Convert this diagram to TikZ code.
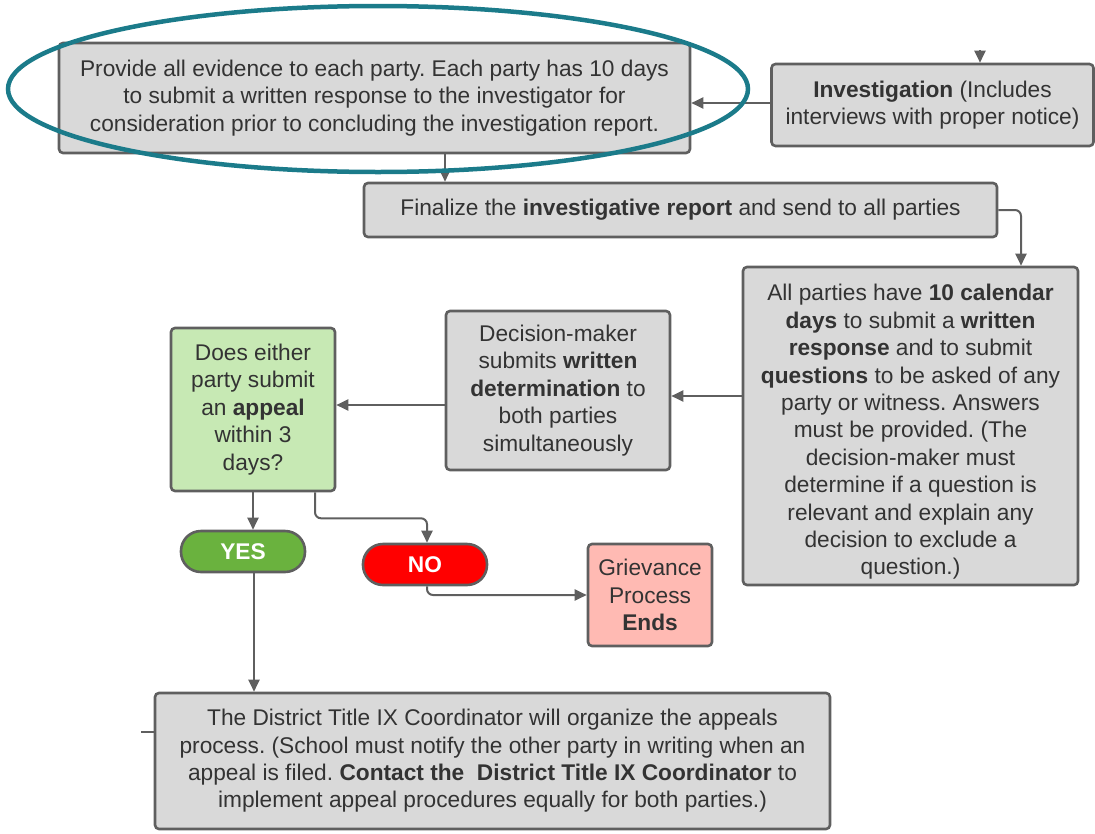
\documentclass[tikz,border=0pt]{standalone}
\usepackage{fontspec}
\setmainfont{Liberation Sans}
\usetikzlibrary{arrows.meta,calc}
\definecolor{boxfill}{HTML}{D9D9D9}
\definecolor{boxline}{HTML}{5F5F5F}
\definecolor{txt}{HTML}{333333}
\definecolor{greenbox}{HTML}{C7E9B4}
\definecolor{yesgreen}{HTML}{6AB23E}
\definecolor{nored}{HTML}{FF0000}
\definecolor{pinkbox}{HTML}{FFBAB3}
\definecolor{tealring}{HTML}{1B7B8A}
\tikzset{
  x=1pt, y=1pt,
  box/.style={draw=boxline, fill=boxfill, line width=2.6pt, rounded corners=4pt,
    inner sep=0pt, align=center, text=txt,
    font=\fontsize{22.7}{27.4}\selectfont},
  boxtext/.style={inner sep=0pt, align=center, text=txt,
    font=\fontsize{22.7}{27.4}\selectfont},
  pill/.style={draw=boxline, line width=2.6pt, rounded corners=20pt,
    inner sep=0pt, align=center, text=white,
    font=\fontsize{22.7}{27.4}\selectfont\bfseries},
  arr/.style={draw=boxline, line width=2pt, -{Triangle[length=12pt,width=11pt]}},
  plain/.style={draw=boxline, line width=2pt}
}
\frenchspacing
\begin{document}
\begin{tikzpicture}
\useasboundingbox (0,0) rectangle (1095,-833);
% nodes
\node[box, minimum width=631pt, minimum height=110pt] (A) at (374.5,-98)
  {Provide all evidence to each party. Each party has 10 days\\
   to submit a written response to the investigator for\\
   consideration prior to concluding the investigation report.};
\node[box, minimum width=322pt, minimum height=82pt] (B) at (932.5,-105)
  {\textbf{Investigation} (Includes\\ interviews with proper notice)};
\node[box, minimum width=633pt, minimum height=54pt] (C) at (680.5,-210)
  {Finalize the \textbf{investigative report} and send to all parties};
\node[box, minimum width=335pt, minimum height=318pt] (D) at (910.5,-426) {};
\node[boxtext] (Dt) at (910.5,-432)
  {All parties have \textbf{10 calendar}\\
   \textbf{days} to submit a \textbf{written}\\
   \textbf{response} and to submit\\
   \textbf{questions} to be asked of any\\
   party or witness. Answers\\
   must be provided. (The\\
   decision-maker must\\
   determine if a question is\\
   relevant and explain any\\
   decision to exclude a\\
   question.)};
\node[box, minimum width=224pt, minimum height=159pt] (E) at (558,-390.5)
  {Decision-maker\\ submits \textbf{written}\\ \textbf{determination} to\\ both parties\\ simultaneously};
\node[box, fill=greenbox, minimum width=164pt, minimum height=163pt] (F) at (253,-409.5)
  {Does either\\ party submit\\ an \textbf{appeal}\\ within 3\\ days?};
\node[pill, fill=yesgreen, minimum width=124pt, minimum height=41pt] (YES) at (243,-551.5) {YES};
\node[pill, fill=nored, minimum width=124pt, minimum height=41pt] (NO) at (425,-564.5) {NO};
\node[box, fill=pinkbox, minimum width=124pt, minimum height=102pt] (H) at (650,-595)
  {Grievance\\ Process\\ \textbf{Ends}};
\node[box, minimum width=675pt, minimum height=136pt] (G) at (492.5,-761)
  {The District Title IX Coordinator will organize the appeals\\
   process. (School must notify the other party in writing when an\\
   appeal is filed. \textbf{Contact the\ \ District Title IX Coordinator} to\\
   implement appeal procedures equally for both parties.)};
% free ends
\coordinate (top) at (980,-50);
\coordinate (gs) at (141,-732);
% connectors
\draw[arr] (top) -- (top |- B.north);
\draw[arr] ([yshift=2]B.west) -- ([yshift=2]B.west -| A.east);
\draw[arr] ([xshift=70.5]A.south) -- ([xshift=70.5]A.south |- C.north);
\draw[arr, rounded corners=6pt] (C.east) -| ([xshift=110.5]D.north);
\draw[arr] ([yshift=-5.5]E.east -| D.west) -- ([yshift=-5.5]E.east);
\draw[arr] ([yshift=-14.5]E.west) -- ([yshift=-14.5]E.west -| F.east);
\draw[arr] (F.south) -- (F.south |- YES.north);
\draw[arr, rounded corners=6pt] ([xshift=62]F.south) -- ++(0,-26) -| ([xshift=2]NO.north);
\draw[arr, rounded corners=6pt] ([xshift=2]NO.south) |- (H.west);
\draw[arr] ([xshift=11]YES.south) -- ([xshift=11]YES.south |- G.north);
\draw[plain] (gs) -- (gs -| G.west);
% highlight ring
\draw[tealring, line width=4.5pt] (378,-89) ellipse [x radius=370, y radius=83];
\end{tikzpicture}
\end{document}
